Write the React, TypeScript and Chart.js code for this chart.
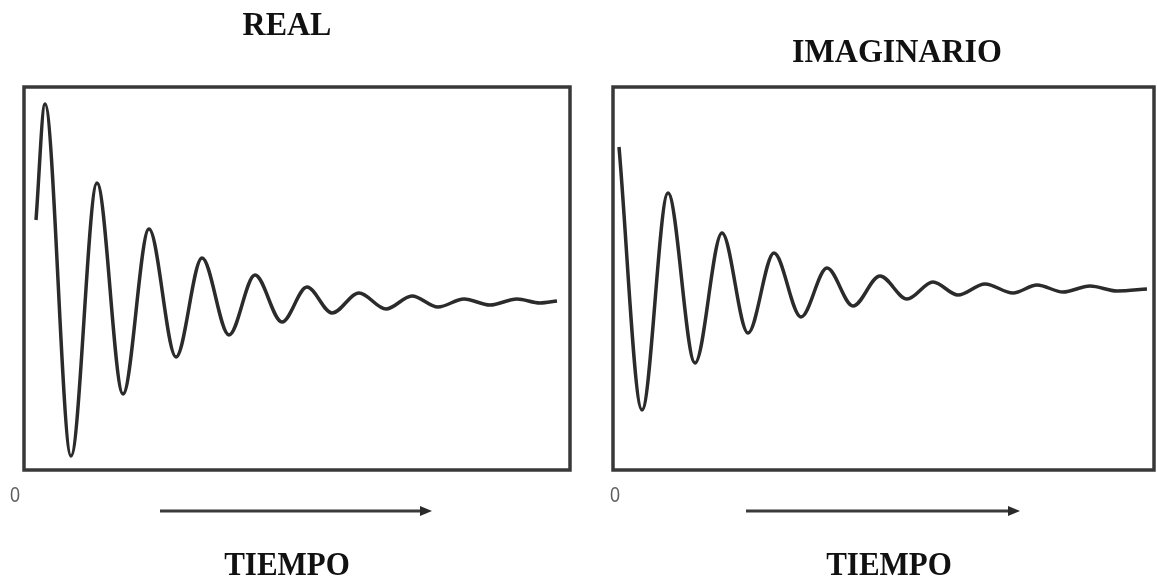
import React, { useEffect, useRef } from "react";
import { Chart, registerables } from "chart.js";

Chart.register(...registerables);

// REAL part: time (arbitrary units) and amplitude
const realTime = [12, 21, 47, 73, 99, 125, 152, 178, 205, 231, 258, 283, 308, 335, 362, 388, 414, 440, 466, 493, 516, 533];
const realValues = [80, 196, -156, 117, -94, 71, -57, 42, -35, 25, -22, 13, -13, 7, -9, 4, -7, 1, -5, 1, -3, -1];

// IMAGINARY part
const imagTime = [6, 29, 55, 82, 109, 135, 161, 188, 214, 240, 267, 294, 320, 345, 372, 400, 424, 450, 477, 504, 534];
const imagValues = [142, -121, 96, -74, 56, -44, 36, -28, 21, -17, 13, -10, 7, -6, 5, -4, 4, -3, 3, -2, 0];

const panelTitles = ["REAL", "IMAGINARIO"];
const axisLabel = "TIEMPO";
const originLabel = "0";

type PanelProps = {
  left: number;
  width: number;
  title: string;
  time: number[];
  values: number[];
  xMax: number;
  yMin: number;
  yMax: number;
  pad: { left: number; top: number; right: number; bottom: number };
  titleX: number;
  titleY: number;
  zeroX: number;
  arrowX1: number;
  arrowX2: number;
  labelX: number;
};

function drawText(
  ctx: CanvasRenderingContext2D,
  text: string,
  x: number,
  y: number,
  font: string,
  color: string,
  sy: number
) {
  ctx.save();
  ctx.translate(x, y);
  ctx.scale(1, sy);
  ctx.font = font;
  ctx.textAlign = "center";
  ctx.textBaseline = "alphabetic";
  ctx.fillStyle = color;
  ctx.fillText(text, 0, 0);
  ctx.restore();
}

function Panel(p: PanelProps) {
  const ref = useRef<HTMLCanvasElement>(null);
  useEffect(() => {
    if (!ref.current) return;
    const deco = {
      id: "deco",
      beforeDatasetsDraw(chart: any) {
        const { ctx, chartArea } = chart;
        ctx.save();
        ctx.strokeStyle = "#383838";
        ctx.lineWidth = 3.5;
        ctx.strokeRect(
          chartArea.left,
          chartArea.top,
          chartArea.right - chartArea.left,
          chartArea.bottom - chartArea.top
        );
        ctx.restore();
      },
      afterDraw(chart: any) {
        const ctx: CanvasRenderingContext2D = chart.ctx;
        drawText(ctx, p.title, p.titleX, p.titleY, "bold 32px 'Liberation Serif'", "#111111", 1.08);
        drawText(ctx, axisLabel, p.labelX, 575, "bold 31px 'Liberation Serif'", "#111111", 1.1);
        drawText(ctx, originLabel, p.zeroX, 502, "18px 'Liberation Sans'", "#5e5e5e", 1.25);
        // arrow
        const y = 511;
        ctx.save();
        ctx.strokeStyle = "#3a3a3a";
        ctx.fillStyle = "#2a2a2a";
        ctx.lineWidth = 3;
        ctx.beginPath();
        ctx.moveTo(p.arrowX1, y);
        ctx.lineTo(p.arrowX2 - 8, y);
        ctx.stroke();
        ctx.beginPath();
        ctx.moveTo(p.arrowX2, y);
        ctx.lineTo(p.arrowX2 - 12, y - 5);
        ctx.lineTo(p.arrowX2 - 12, y + 5);
        ctx.closePath();
        ctx.fill();
        ctx.restore();
      },
    };
    const chart = new Chart(ref.current, {
      type: "line",
      data: {
        datasets: [
          {
            data: p.time.map((t, i) => ({ x: t, y: p.values[i] })),
            borderColor: "#2b2b2b",
            borderWidth: 3.5,
            pointRadius: 0,
            cubicInterpolationMode: "monotone",
            fill: false,
          },
        ],
      },
      options: {
        responsive: false,
        animation: false,
        devicePixelRatio: 1,
        events: [],
        layout: { padding: p.pad },
        plugins: {
          legend: { display: false },
          tooltip: { enabled: false },
          title: { display: false },
        },
        scales: {
          x: { type: "linear", display: false, min: 0, max: p.xMax },
          y: { type: "linear", display: false, min: p.yMin, max: p.yMax },
        },
      },
      plugins: [deco],
    } as any);
    return () => chart.destroy();
  }, []);
  return (
    <canvas
      ref={ref}
      width={p.width}
      height={580}
      style={{ position: "absolute", left: p.left, top: 0, width: p.width, height: 580 }}
    />
  );
}

export default function App() {
  return (
    <div
      style={{
        position: "fixed",
        left: 0,
        top: 0,
        width: 1157,
        height: 580,
        background: "#ffffff",
        overflow: "hidden",
      }}
    >
      <Panel
        left={0}
        width={590}
        title={panelTitles[0]}
        time={realTime}
        values={realValues}
        xMax={546}
        yMin={-170}
        yMax={213}
        pad={{ left: 24, top: 87, right: 20, bottom: 110 }}
        titleX={287}
        titleY={35}
        zeroX={15}
        arrowX1={160}
        arrowX2={432}
        labelX={287}
      />
      <Panel
        left={590}
        width={567}
        title={panelTitles[1]}
        time={imagTime}
        values={imagValues}
        xMax={541}
        yMin={-181}
        yMax={202}
        pad={{ left: 23, top: 87, right: 3, bottom: 110 }}
        titleX={307}
        titleY={62}
        zeroX={25}
        arrowX1={156}
        arrowX2={430}
        labelX={299}
      />
    </div>
  );
}
